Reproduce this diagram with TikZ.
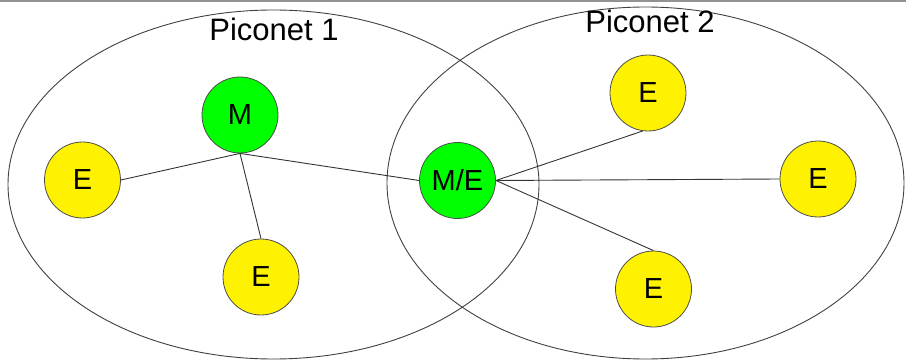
\documentclass[tikz,border=0pt]{standalone}
\usepackage{fontspec}
\setmainfont{Liberation Sans}
\begin{document}
\begin{tikzpicture}[x=1pt,y=-1pt,
  piconet/.style={draw=black!75, line width=0.9pt},
  dev/.style={circle, draw=black!70, line width=0.8pt, minimum size=76pt, inner sep=0pt, font=\fontsize{29}{29}\selectfont},
  master/.style={dev, fill=green},
  slave/.style={dev, fill=yellow},
  link/.style={draw=black!80, line width=0.9pt},
  title/.style={anchor=base, inner sep=0pt, font=\fontsize{31}{31}\selectfont}]
\useasboundingbox (0,0) rectangle (906,361);
\fill[gray!85] (0,0) rectangle (906,2);
% piconet boundaries
\draw[piconet] (273.5,184.5) ellipse [x radius=265.5pt, y radius=174.5pt];
\draw[piconet] (645.5,183) ellipse [x radius=258.5pt, y radius=176pt];
\node[title] (p1) at (274,41) {Piconet 1};
\node[title] (p2) at (650,33) {Piconet 2};
% devices
\node[master] (m) at (240,115) {M};
\node[slave] (e1) at (82.5,180) {E};
\node[slave] (e2) at (261,277) {E};
\node[master] (me) at (457.5,180.5) {M/E};
\node[slave] (e3) at (648,93) {E};
\node[slave] (e4) at (818,179) {E};
\node[slave] (e5) at (653.5,289) {E};
% links
\draw[link] (m.south) -- (e1.east);
\draw[link] (m.south) -- (e2.north);
\draw[link] (m.south) -- (me.west);
\draw[link] (me.east) -- (e3.-98);
\draw[link] (me.east) -- (e4.west);
\draw[link] (me.east) -- (e5.north);
\end{tikzpicture}
\end{document}
